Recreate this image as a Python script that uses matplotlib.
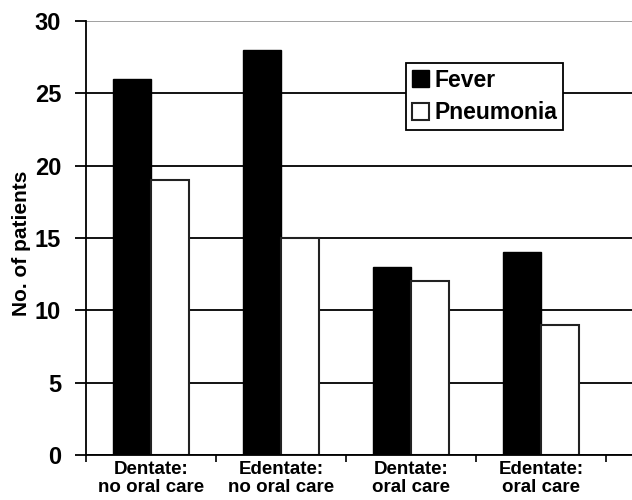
import matplotlib
matplotlib.use("Agg")
import matplotlib.pyplot as plt
import numpy as np

categories = ["Dentate:\nno oral care", "Edentate:\nno oral care", "Dentate:\noral care", "Edentate:\noral care"]
fever = [26, 28, 13, 14]
pneumonia = [19, 15, 12, 9]
series_labels = ["Fever", "Pneumonia"]

plt.rcParams['font.family'] = ['Liberation Sans', 'DejaVu Sans']
plt.rcParams['font.weight'] = 'bold'

fig = plt.figure(figsize=(6.32, 5.0), dpi=100)
W, H = 632, 500
left, right, top, bottom = 86, 632, 21, 455
ax = fig.add_axes([left / W, 1 - bottom / H, (right - left) / W, (bottom - top) / H])

x = np.arange(len(categories))
bw = 0.29
ax.bar(x - bw / 2, fever, width=bw, color='black', edgecolor='black', linewidth=1.0, label=series_labels[0], zorder=2)
ax.bar(x + bw / 2, pneumonia, width=bw, color='white', edgecolor='#222222', linewidth=1.5, label=series_labels[1], zorder=2)

ax.set_ylim(0, 30)
ax.set_xlim(-0.5, -0.5 + (right - left) / 130)
ax.set_yticks(range(0, 31, 5))
ax.yaxis.grid(True, color='black', linewidth=1.3, zorder=0)
ax.set_axisbelow(True)
ax.get_ygridlines()[-1].set_color('#999999')

ax.set_xticks(np.arange(-0.5, 4.0, 1.0))
ax.set_xticklabels([])
ax.set_xticks(x, minor=True)
ax.set_xticklabels(categories, minor=True, fontsize=13.5, fontweight='bold', linespacing=1.12)
ax.tick_params(axis='x', which='minor', length=0, pad=4)
ax.tick_params(axis='x', which='major', length=5, width=1.2, direction='out')
ax.tick_params(axis='y', length=8, width=1.3, direction='out', labelsize=17, pad=10)
for lab in ax.get_yticklabels():
    lab.set_fontweight('bold')

ax.spines['top'].set_visible(False)
ax.spines['right'].set_visible(False)
ax.spines['left'].set_linewidth(1.3)
ax.spines['bottom'].set_linewidth(1.3)

ax.set_ylabel("No. of patients", fontsize=15, fontweight='bold')
ax.yaxis.set_label_coords((31 - left) / (right - left), (bottom - 243) / (bottom - top))

leg = ax.legend(loc='upper left', bbox_to_anchor=((406 - left) / (right - left), 1 - (63 - top) / (bottom - top)),
                frameon=True, fancybox=False, edgecolor='black', framealpha=1,
                prop={'size': 16.5, 'weight': 'bold'}, handlelength=0.75, handleheight=0.75,
                handletextpad=0.25, borderpad=0.25, labelspacing=0.42, borderaxespad=0)
leg.get_frame().set_linewidth(1.3)
leg.set_zorder(5)

fig.savefig("out.png", dpi=100, facecolor='white')
